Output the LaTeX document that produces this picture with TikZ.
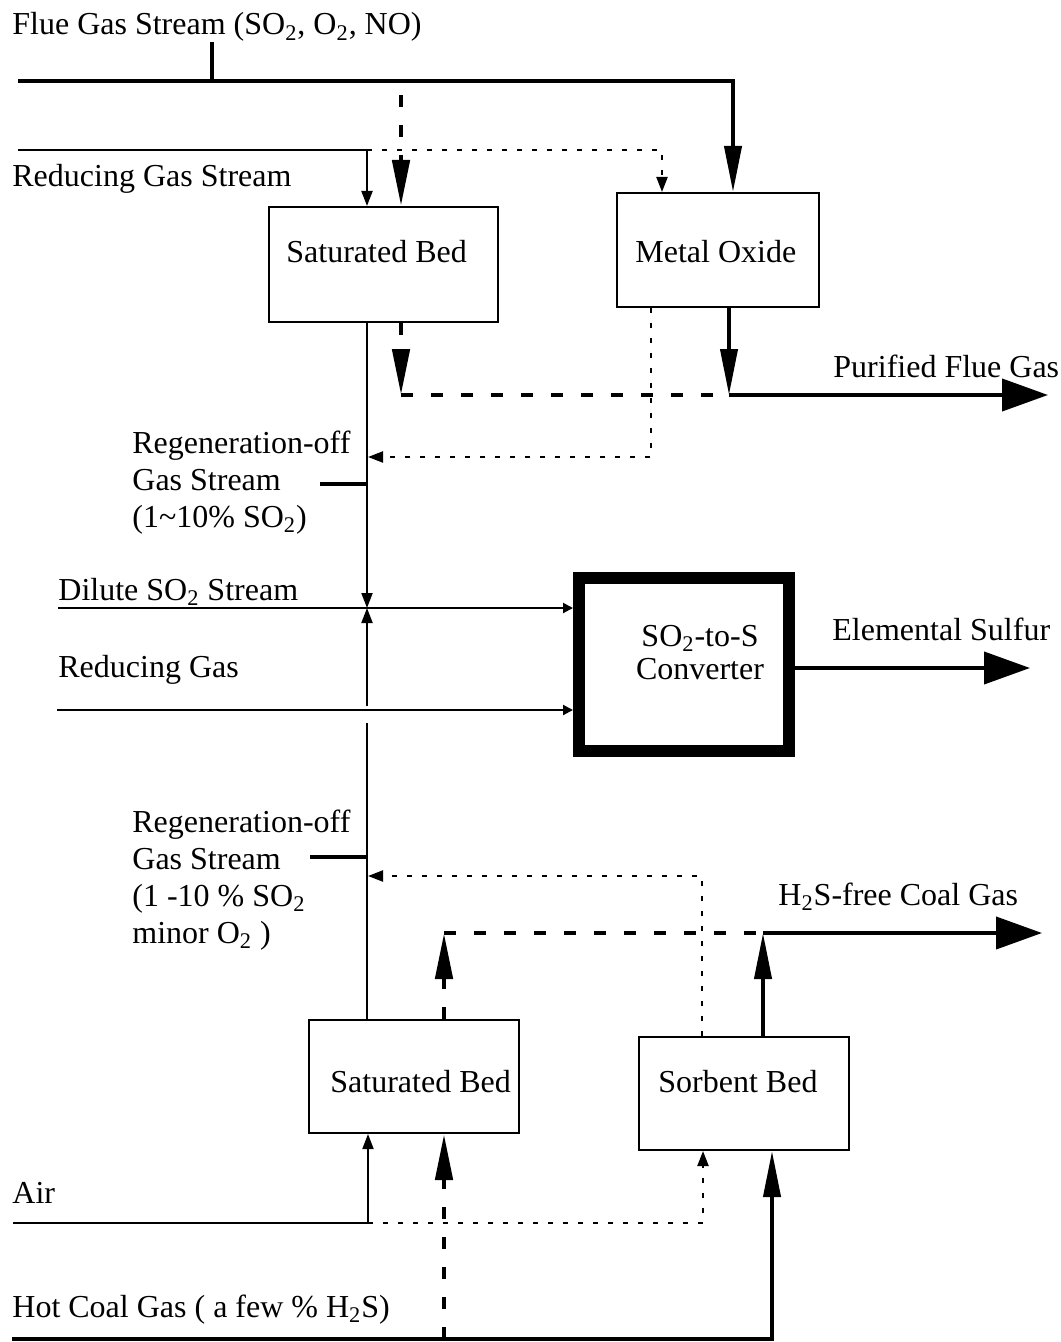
\documentclass[tikz,border=0pt]{standalone}
\usepackage{fontspec}
\setmainfont{Liberation Serif}
\usetikzlibrary{arrows.meta}
\begin{document}
\begin{tikzpicture}[x=0.5pt,y=-0.5pt,
  lbl/.style={font=\fontsize{16}{18.5}\selectfont, inner sep=0pt, anchor=base west, align=left},
  box/.style={draw, line width=1pt, inner sep=0pt},
  thinln/.style={line width=1pt},
  thk/.style={line width=2pt},
  dsh/.style={line width=2.4pt, dash pattern=on 6pt off 9pt},
  dot/.style={line width=1.1pt, dash pattern=on 2.5pt off 5pt},
  sarr/.style={-{Triangle[length=7.5pt,width=5.5pt]}},
  carr/.style={-{Triangle[length=5pt,width=5pt]}},
  varr/.style={-{Triangle[length=23pt,width=8.5pt]}},
  harr/.style={-{Triangle[length=23pt,width=16pt]}}]
\useasboundingbox[fill=white] (0,0) rectangle (1060,1342);

% boxes
\node[box, minimum width=114.5pt, minimum height=57.5pt] (sb1) at (383.5,264.5) {};
\node[lbl] (sb1t) at (286,263) {Saturated Bed};
\node[box, minimum width=101pt, minimum height=57pt] (mo) at (718,250) {};
\node[lbl] (mot) at (635,263) {Metal Oxide};
\node[draw, line width=6pt, minimum width=105pt, minimum height=86.5pt] (conv) at (684,664.5) {};
\node[font=\fontsize{16}{16.5}\selectfont, inner sep=0pt, align=center, anchor=base] (convt) at (700,679) {SO\textsubscript{2}-to-S\\Converter};
\node[box, minimum width=105pt, minimum height=56.5pt] (sb2) at (414,1076.5) {};
\node[lbl] (sb2t) at (330,1092) {Saturated Bed};
\node[box, minimum width=105pt, minimum height=56.5pt] (sorb) at (744,1093.5) {};
\node[lbl] (sorbt) at (658,1092) {Sorbent Bed};

% labels
\node[lbl] (flue) at (12,35) {Flue Gas Stream (SO\textsubscript{2}, O\textsubscript{2}, NO)};
\node[lbl] (red) at (12,187) {Reducing Gas Stream};
\node[lbl] (pur) at (833,377) {Purified Flue Gas};
\node[lbl] (regA) at (132,527) {Regeneration-off\\Gas Stream\\(1\textasciitilde10\% SO\textsubscript{2})};
\node[lbl] (dil) at (58,600) {Dilute SO\textsubscript{2} Stream};
\node[lbl] (rg) at (58,677) {Reducing Gas};
\node[lbl] (es) at (832,640) {Elemental Sulfur};
\node[lbl] (h2s) at (778,905) {H\textsubscript{2}S-free Coal Gas};
\node[lbl] (regB) at (132,943) {Regeneration-off\\Gas Stream\\(1 -10 \% SO\textsubscript{2}\\minor O\textsubscript{2} )};
\node[lbl] (air) at (12,1203) {Air};
\node[lbl] (hcg) at (12,1317) {Hot Coal Gas ( a few \% H\textsubscript{2}S)};

% flue gas stream
\coordinate (fgL) at (18,81);
\coordinate (fgR) at (733,81);
\coordinate (tickT) at (212,42);
\coordinate (tickB) at (212,81);
\draw[thk, varr] (fgL) -- (fgR) -- (fgR |- mo.north);
\draw[thk] (tickT) -- (tickB);
\coordinate (dfT) at (401,95);
\draw[dsh, varr] (dfT) -- (dfT |- sb1.north);

% reducing gas stream
\coordinate (rgL) at (18,150);
\coordinate (rgC) at (367,150);
\coordinate (rgR) at (662,150);
\draw[thinln, sarr] (rgL) -- (rgC) -- (rgC |- sb1.north);
\draw[dot, sarr] (rgC) -- (rgR) -- (rgR |- mo.north);

% purified flue gas
\coordinate (pc) at (401,395);
\coordinate (pm) at (729,395);
\coordinate (pe) at (1048,395);
\draw[dsh, varr] (sb1.south -| pc) -- (pc);
\draw[dsh] (pc) -- (pm);
\draw[thk, varr] (mo.south -| pm) -- (pm);
\draw[thk, harr] (pm) -- (pe);

% regeneration from metal oxide
\coordinate (dm) at (651,457);
\coordinate (dv) at (368,457);
\draw[dot, sarr] (mo.south -| dm) -- (dm) -- (dv);

% central vertical line
\coordinate (v1) at (367,608);
\coordinate (v2) at (367,706);
\coordinate (v3) at (367,723);
\draw[thinln, sarr] (sb1.south -| v1) -- (v1);
\draw[thinln, sarr] (v2) -- (v1);
\draw[thinln] (sb2.north -| v3) -- (v3);
\coordinate (tAL) at (320,484);
\coordinate (tAR) at (367,484);
\draw[thk] (tAL) -- (tAR);
\coordinate (tBL) at (310,857);
\coordinate (tBR) at (367,857);
\draw[thk] (tBL) -- (tBR);

% converter inputs and output
\coordinate (dL) at (58,608);
\coordinate (rL) at (57,710);
\draw[thinln, carr] (dL) -- (dL -| conv.west);
\draw[thinln, carr] (rL) -- (rL -| conv.west);
\coordinate (esE) at (1030,668);
\draw[thk, harr] (conv.east |- esE) -- (esE);

% lower regeneration
\coordinate (lt) at (368,876);
\coordinate (lc) at (702,876);
\draw[dot, sarr] (sorb.north -| lc) -- (lc) -- (lt);

% H2S-free coal gas
\coordinate (hd) at (444,933);
\coordinate (hm) at (763,933);
\coordinate (he) at (1042,933);
\draw[dsh, varr] (sb2.north -| hd) -- (hd);
\draw[dsh] (hd) -- (hm);
\draw[thk, varr] (sorb.north -| hm) -- (hm);
\draw[thk, harr] (hm) -- (he);

% air
\coordinate (aL) at (13,1223);
\coordinate (aC) at (368,1223);
\coordinate (aR) at (703,1223);
\draw[thinln, sarr] (aL) -- (aC) -- (aC |- sb2.south);
\draw[dot, sarr] (aC) -- (aR) -- (aR |- sorb.south);

% hot coal gas
\coordinate (hL) at (12,1339);
\coordinate (hC) at (772,1339);
\coordinate (hdB) at (444,1339);
\draw[thk, varr] (hL) -- (hC) -- (hC |- sorb.south);
\draw[dsh, varr] (hdB) -- (hdB |- sb2.south);
\end{tikzpicture}
\end{document}
